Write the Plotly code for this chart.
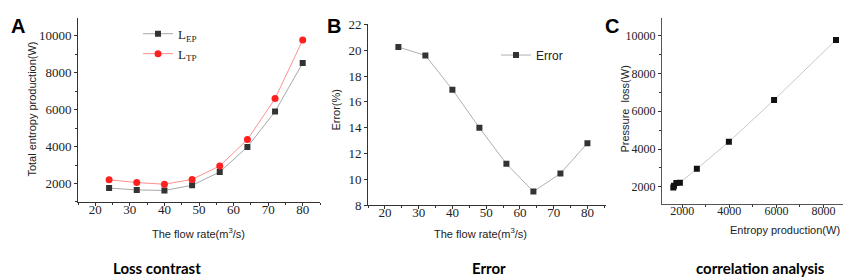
import plotly.graph_objects as go

flow_rate = [24, 32, 40, 48, 56, 64, 72, 80]
L_EP = [1750, 1650, 1620, 1900, 2620, 3980, 5900, 8530]
L_TP = [2200, 2050, 1960, 2220, 2950, 4380, 6600, 9780]
error_pct = [20.25, 19.6, 16.95, 14.0, 11.2, 9.05, 10.45, 12.8]

W, H = 851, 277

def px_x(a, b):
    return [a / W, b / W]

def px_y(top, bottom):
    return [(H - bottom) / H, (H - top) / H]

SERIF = "Liberation Serif, Times New Roman, serif"
SANS = "Liberation Sans"

fig = go.Figure()

# Panel A
fig.add_trace(go.Scatter(x=flow_rate, y=L_EP, mode="lines+markers", name="L<sub>EP</sub>",
                         line=dict(color="#a8a8a8", width=1),
                         marker=dict(symbol="square", size=6, color="#333333"),
                         xaxis="x", yaxis="y", legend="legend"))
fig.add_trace(go.Scatter(x=flow_rate, y=L_TP, mode="lines+markers", name="L<sub>TP</sub>",
                         line=dict(color="#ff9090", width=1),
                         marker=dict(symbol="circle", size=7, color="#ff2020"),
                         xaxis="x", yaxis="y", legend="legend"))
# Panel B
fig.add_trace(go.Scatter(x=flow_rate, y=error_pct, mode="lines+markers", name="Error",
                         line=dict(color="#b0b0b0", width=1),
                         marker=dict(symbol="square", size=6, color="#333333"),
                         xaxis="x2", yaxis="y2", legend="legend2"))
# Panel C
pairs = sorted(zip(L_EP, L_TP))
fig.add_trace(go.Scatter(x=[p[0] for p in pairs], y=[p[1] for p in pairs], mode="lines+markers",
                         line=dict(color="#c8c8c8", width=1),
                         marker=dict(symbol="square", size=6, color="#111111"),
                         xaxis="x3", yaxis="y3", showlegend=False))

def axis_common(**kw):
    d = dict(showline=True, linecolor="#333333", linewidth=1, ticks="outside", ticklen=3,
             tickcolor="#333333", showgrid=False, zeroline=False, tickformat="d",
             tickfont=dict(family=SERIF, size=13, color="#222222"))
    d.update(kw)
    return d

fig.update_layout(
    width=W, height=H, margin=dict(l=0, r=0, t=0, b=0),
    paper_bgcolor="white", plot_bgcolor="white",
    xaxis=axis_common(domain=px_x(70, 312), range=[15, 85], dtick=10, tick0=0,
                      minor=dict(dtick=5, ticklen=2, tickcolor="#333333", ticks="outside"),
                      ticklabelstandoff=-8, anchor="y"),
    yaxis=axis_common(domain=px_y(3, 198), range=[980, 10980], dtick=2000, tick0=0,
                      minor=dict(dtick=1000, ticklen=2, tickcolor="#333333", ticks="outside"),
                      anchor="x"),
    xaxis2=axis_common(domain=px_x(360, 598), range=[15, 85.5], dtick=10, tick0=0,
                       minor=dict(dtick=5, ticklen=2, tickcolor="#333333", ticks="outside"),
                       ticklabelstandoff=-8, anchor="y2"),
    yaxis2=axis_common(domain=px_y(10, 201), range=[8, 22], dtick=2, tick0=0, anchor="x2"),
    xaxis3=axis_common(domain=px_x(654, 848), range=[1140, 9380], dtick=2000, tick0=0,
                       minor=dict(dtick=1000, ticklen=2, tickcolor="#333333", ticks="outside"),
                       tickfont=dict(family=SERIF, size=12, color="#222222"),
                       ticklabelstandoff=-8, linecolor="#555555", anchor="y3"),
    yaxis3=axis_common(domain=px_y(3, 200), range=[1080, 10950], dtick=2000, tick0=0,
                       minor=dict(dtick=1000, ticklen=2, tickcolor="#333333", ticks="outside"),
                       tickfont=dict(family=SERIF, size=12, color="#222222"),
                       linecolor="#555555", anchor="x3"),
    legend=dict(x=130 / W, y=(H - 4) / H, xanchor="left", yanchor="top",
                bgcolor="rgba(0,0,0,0)", font=dict(family=SERIF, size=13, color="#222222"),
                itemwidth=30, tracegroupgap=0),
    legend2=dict(x=488 / W, y=(H - 27) / H, xanchor="left", yanchor="top",
                 bgcolor="rgba(0,0,0,0)", font=dict(family=SANS, size=12, color="#222222"),
                 itemwidth=30),
)

def ann(text, x, y, size, family=SANS, bold=False, angle=0, color="#222222"):
    if bold:
        text = "<b>" + text + "</b>"
    fig.add_annotation(text=text, x=x / W, y=(H - y) / H, xref="paper", yref="paper",
                       showarrow=False, textangle=angle, xanchor="center", yanchor="middle",
                       font=dict(family=family, size=size, color=color))

# Panel letters
ann("A", 10, 12, 20, bold=True, color="#000000")
ann("B", 326, 12, 20, bold=True, color="#000000")
ann("C", 604, 12, 20, bold=True, color="#000000")

# Axis titles
ann("The flow rate(m<sup>3</sup>/s)", 190, 231, 11)
ann("Total entropy production(W)", 24, 100, 11, angle=-90)
ann("The flow rate(m<sup>3</sup>/s)", 472, 231, 11)
ann("Error(%)", 328, 100, 11, angle=-90)
ann("Entropy production(W)", 777, 227, 11)
ann("Pressure  loss(W)", 617, 100, 11, angle=-90)

# Captions
CAP = "Lato, Liberation Sans, sans-serif"
ann("Loss contrast", 149, 267, 15, family=CAP, bold=True, color="#000000")
ann("Error", 481, 267, 15, family=CAP, bold=True, color="#000000")
ann("correlation analysis", 752, 267, 15, family=CAP, bold=True, color="#000000")

fig.write_html("out.html")
